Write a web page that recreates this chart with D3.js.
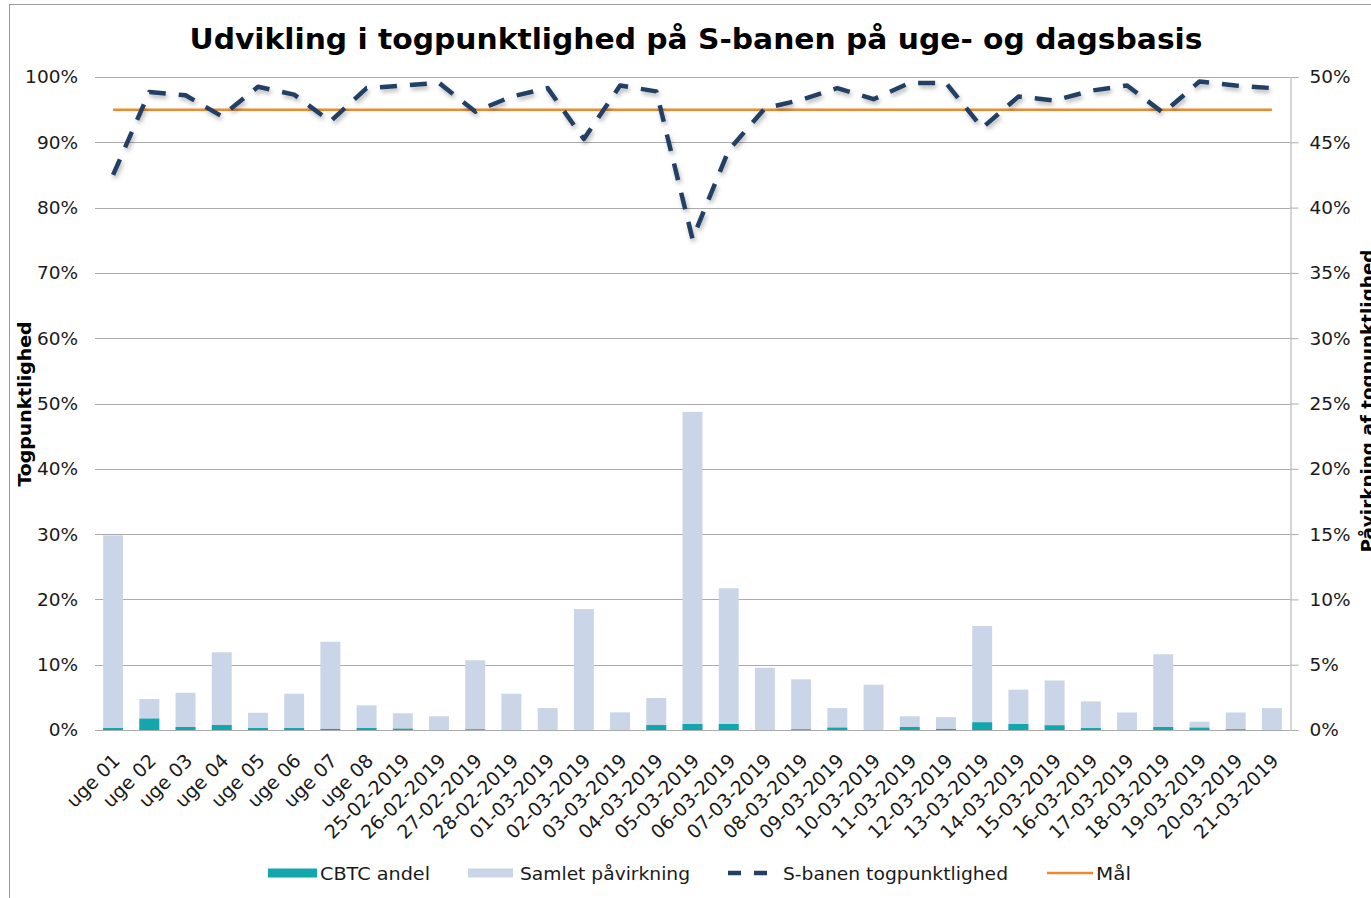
<!DOCTYPE html>
<html>
<head>
<meta charset="utf-8">
<script src="https://cdn.jsdelivr.net/npm/d3@7/dist/d3.min.js"></script>
<style>
  html, body { margin: 0; padding: 0; background: #fff; }
  svg { display: block; font-family: "DejaVu Sans", Verdana, sans-serif; }
</style>
</head>
<body>
<svg id="chart" width="1371" height="898"></svg>
<script>
// ---------------- DATA ----------------
const categories = [
  "uge 01","uge 02","uge 03","uge 04","uge 05","uge 06","uge 07","uge 08",
  "25-02-2019","26-02-2019","27-02-2019","28-02-2019",
  "01-03-2019","02-03-2019","03-03-2019","04-03-2019","05-03-2019","06-03-2019","07-03-2019",
  "08-03-2019","09-03-2019","10-03-2019","11-03-2019","12-03-2019","13-03-2019","14-03-2019",
  "15-03-2019","16-03-2019","17-03-2019","18-03-2019","19-03-2019","20-03-2019","21-03-2019"
];
// Samlet påvirkning (right axis, %)
const samletPaavirkning = [14.9, 2.37, 2.85, 5.95, 1.32, 2.78, 6.76, 1.89, 1.28, 1.05, 5.34, 2.78,
  1.68, 9.26, 1.35, 2.45, 24.36, 10.85, 4.77, 3.88, 1.68, 3.47, 1.05, 0.98, 7.96, 3.09,
  3.79, 2.19, 1.34, 5.8, 0.64, 1.34, 1.68];
// CBTC andel (right axis, %)
const cbtcAndel = [0.15, 0.87, 0.23, 0.38, 0.15, 0.15, 0.08, 0.15, 0.1, 0, 0.05, 0,
  0, 0, 0, 0.38, 0.46, 0.46, 0, 0.05, 0.18, 0, 0.23, 0.08, 0.59, 0.46,
  0.36, 0.15, 0, 0.23, 0.18, 0.05, 0];
// S-banen togpunktlighed (left axis, %)
const togpunktlighed = [85.0, 97.7, 97.2, 94.0, 98.5, 97.3, 93.2, 98.3, 98.7, 99.1, 94.7, 97.0,
  98.3, 90.5, 98.7, 97.8, 75.2, 88.8, 95.2, 96.5, 98.3, 96.6, 99.1, 99.1, 92.2, 97.0,
  96.4, 97.9, 98.7, 94.5, 99.3, 98.7, 98.3];
// Mål (left axis, %)
const maal = [95, 95, 95, 95, 95, 95, 95, 95, 95, 95, 95, 95,
  95, 95, 95, 95, 95, 95, 95, 95, 95, 95, 95, 95, 95, 95,
  95, 95, 95, 95, 95, 95, 95];

const leftTickValues = [0, 10, 20, 30, 40, 50, 60, 70, 80, 90, 100];
const leftTickLabels = ["0%","10%","20%","30%","40%","50%","60%","70%","80%","90%","100%"];
const rightTickValues = [0, 5, 10, 15, 20, 25, 30, 35, 40, 45, 50];
const rightTickLabels = ["0%","5%","10%","15%","20%","25%","30%","35%","40%","45%","50%"];

const titleText = "Udvikling i togpunktlighed på S-banen på uge- og dagsbasis";
const leftAxisTitle = "Togpunktlighed";
const rightAxisTitle = "Påvirkning af togpunktlighed";
const legendLabels = ["CBTC andel", "Samlet påvirkning", "S-banen togpunktlighed", "Mål"];

// ---------------- STYLE ----------------
const C = {
  cbtc: "#12A6AD",
  samlet: "#CAD5E7",
  line: "#243F63",
  maal: "#EE8A2C",
  grid: "#ABABAB",
  text: "#1a1a1a"
};

const svg = d3.select("#chart");
const plot = { left: 95, right: 1290, top: 77, bottom: 730 };

function fit(sel, w) {
  sel.attr("textLength", w).attr("lengthAdjust", "spacingAndGlyphs");
}

// chart frame
svg.append("rect").attr("x", 9.5).attr("y", 4.5).attr("width", 1400).attr("height", 1000)
  .attr("fill", "#fff").attr("stroke", "#9a9a9a").attr("stroke-width", 1);

// shadow filter
const defs = svg.append("defs");
const f = defs.append("filter").attr("id", "shadow").attr("x", "-10%").attr("y", "-10%")
  .attr("width", "120%").attr("height", "130%");
f.append("feDropShadow").attr("dx", 1.5).attr("dy", 3).attr("stdDeviation", 2)
  .attr("flood-color", "#000").attr("flood-opacity", 0.28);

// scales
const x = d3.scaleBand().domain(categories).range([plot.left, plot.right]).padding(0);
const yL = d3.scaleLinear().domain([0, 100]).range([plot.bottom, plot.top]);
const yR = d3.scaleLinear().domain([0, 50]).range([plot.bottom, plot.top]);
const cx = d => x(d) + x.bandwidth() / 2;
const barW = x.bandwidth() * 0.55;

// gridlines
svg.append("g").selectAll("line").data(leftTickValues).join("line")
  .attr("x1", plot.left).attr("x2", plot.right)
  .attr("y1", d => Math.round(yL(d)) + 0.5).attr("y2", d => Math.round(yL(d)) + 0.5)
  .attr("stroke", C.grid).attr("stroke-width", 1);

// left axis
const gL = svg.append("g").attr("transform", `translate(${plot.left},0)`)
  .call(d3.axisLeft(yL).tickValues(leftTickValues).tickSize(0).tickPadding(17)
    .tickFormat((d, i) => leftTickLabels[i]));
gL.select(".domain").remove();
gL.selectAll("text").attr("font-size", 18.5).attr("fill", C.text)
  .attr("font-family", "DejaVu Sans, sans-serif");

// right axis
const gR = svg.append("g").attr("transform", `translate(${plot.right + 0.5},0)`)
  .call(d3.axisRight(yR).tickValues(rightTickValues).tickSize(8).tickPadding(11)
    .tickFormat((d, i) => rightTickLabels[i]));
gR.select(".domain").attr("stroke", C.grid);
gR.selectAll(".tick line").attr("stroke", C.grid);
gR.selectAll("text").attr("font-size", 18.5).attr("fill", C.text)
  .attr("font-family", "DejaVu Sans, sans-serif");

// bars: Samlet påvirkning (back) and CBTC andel (front), on right axis
svg.append("g").selectAll("rect").data(categories).join("rect")
  .attr("x", d => cx(d) - barW / 2).attr("width", barW)
  .attr("y", (d, i) => yR(samletPaavirkning[i]))
  .attr("height", (d, i) => yR(0) - yR(samletPaavirkning[i]))
  .attr("fill", C.samlet);
svg.append("g").selectAll("rect").data(categories).join("rect")
  .attr("x", d => cx(d) - barW / 2).attr("width", barW)
  .attr("y", (d, i) => yR(cbtcAndel[i]))
  .attr("height", (d, i) => yR(0) - yR(cbtcAndel[i]))
  .attr("fill", C.cbtc);

// bottom axis
const gB = svg.append("g").attr("transform", `translate(0,${plot.bottom})`)
  .call(d3.axisBottom(x).tickSize(0).tickPadding(0));
gB.select(".domain").remove();
gB.selectAll("text")
  .attr("font-size", 19).attr("fill", C.text).attr("font-family", "DejaVu Sans, sans-serif")
  .attr("text-anchor", "end").attr("y", 0).attr("dy", 0)
  .attr("transform", "translate(8,32) rotate(-45)");

// Mål line
const lineGen = d3.line().x((d, i) => cx(categories[i])).y(d => yL(d));
svg.append("path").datum(maal).attr("d", lineGen)
  .attr("fill", "none").attr("stroke", C.maal).attr("stroke-width", 2.5);

// S-banen togpunktlighed dashed line
svg.append("path").datum(togpunktlighed).attr("d", lineGen)
  .attr("fill", "none").attr("stroke", C.line).attr("stroke-width", 4.5)
  .attr("stroke-dasharray", "17,13").attr("stroke-linejoin", "round")
  .attr("filter", "url(#shadow)");

// title
const t = svg.append("text").attr("x", 696).attr("y", 49).attr("text-anchor", "middle")
  .attr("font-size", 27.5).attr("font-weight", "bold").attr("fill", "#000").text(titleText);
fit(t, 1013);

// axis titles
const lt = svg.append("text").attr("transform", "translate(31,404) rotate(-90)")
  .attr("text-anchor", "middle").attr("font-size", 17.5).attr("font-weight", "bold")
  .attr("fill", "#000").text(leftAxisTitle);
fit(lt, 165);
const rt = svg.append("text").attr("transform", "translate(1374,401) rotate(-90)")
  .attr("text-anchor", "middle").attr("font-size", 17.5).attr("font-weight", "bold")
  .attr("fill", "#000").text(rightAxisTitle);
fit(rt, 303);

// legend
const lg = svg.append("g");
const ly = 873;
lg.append("rect").attr("x", 268).attr("y", ly - 4.5).attr("width", 49).attr("height", 9).attr("fill", C.cbtc);
lg.append("rect").attr("x", 468).attr("y", ly - 4.5).attr("width", 45).attr("height", 9).attr("fill", C.samlet);
lg.append("line").attr("x1", 728).attr("x2", 767).attr("y1", ly).attr("y2", ly)
  .attr("stroke", C.line).attr("stroke-width", 4.5).attr("stroke-dasharray", "13,13");
lg.append("line").attr("x1", 1047).attr("x2", 1093).attr("y1", ly).attr("y2", ly)
  .attr("stroke", C.maal).attr("stroke-width", 2.5);
const legX = [320, 520, 783, 1096];
const legW = [110, 170, 225, 35];
legendLabels.forEach((s, i) => {
  const tx = lg.append("text").attr("x", legX[i]).attr("y", ly + 6.5)
    .attr("font-size", 17.5).attr("fill", C.text).text(s);
  fit(tx, legW[i]);
});
</script>
</body>
</html>
